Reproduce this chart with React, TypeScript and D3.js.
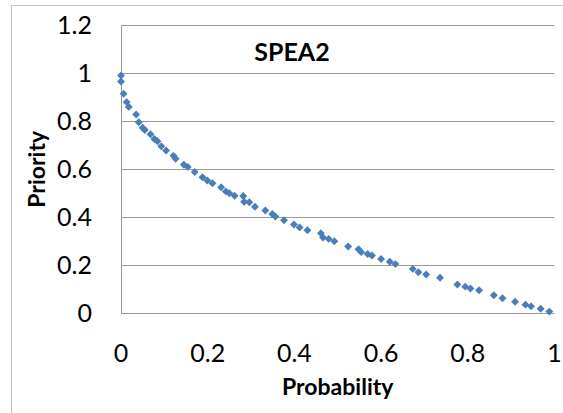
import * as d3 from "d3";

// values
const probability = [
  0, 0, 0.006, 0.013, 0.018, 0.035, 0.041, 0.05, 0.055, 0.068, 0.077, 0.084, 0.093, 0.104, 0.121, 0.126,
  0.145, 0.154, 0.17, 0.188, 0.199, 0.211, 0.231, 0.242, 0.25, 0.262, 0.282, 0.284, 0.296, 0.309, 0.333, 0.349,
  0.356, 0.376, 0.399, 0.412, 0.43, 0.461, 0.466, 0.479, 0.492, 0.524, 0.548, 0.554, 0.569, 0.579, 0.6, 0.62,
  0.633, 0.673, 0.686, 0.704, 0.736, 0.776, 0.794, 0.806, 0.826, 0.86, 0.88, 0.909, 0.933, 0.946, 0.968, 0.988,
];
const priority = [
  0.991, 0.966, 0.915, 0.88, 0.86, 0.828, 0.796, 0.773, 0.764, 0.746, 0.726, 0.717, 0.696, 0.678, 0.656, 0.644,
  0.619, 0.61, 0.589, 0.567, 0.553, 0.542, 0.525, 0.508, 0.5, 0.49, 0.489, 0.465, 0.463, 0.444, 0.428, 0.414,
  0.403, 0.388, 0.37, 0.358, 0.346, 0.334, 0.316, 0.31, 0.3, 0.278, 0.267, 0.255, 0.247, 0.241, 0.226, 0.215,
  0.205, 0.185, 0.171, 0.162, 0.148, 0.12, 0.111, 0.103, 0.096, 0.075, 0.063, 0.048, 0.036, 0.029, 0.019, 0.007,
];
const xTicks = [0, 0.2, 0.4, 0.6, 0.8, 1];
const yTicks = [0, 0.2, 0.4, 0.6, 0.8, 1, 1.2];

const title = "SPEA2";
const xTitle = "Probability";
const yTitle = "Priority";

const W = 563;
const H = 413;
const font = "Lato, 'Open Sans', sans-serif";

export default function App() {
  const x = d3.scaleLinear().domain([0, 1]).range([121, 554.5]);
  const y = d3.scaleLinear().domain([0, 1.2]).range([313.3, 25.3]);
  const [x0, x1] = x.range();
  const [y0, y1] = y.range();
  const marker = d3.symbol(d3.symbolDiamond2, 40)() as string;
  const fmt = (v: number) => String(+v.toFixed(1));

  return (
    <svg
      width={W}
      height={H}
      style={{ position: "absolute", left: 0, top: 0, background: "#fff" }}
      fontFamily={font}
    >
      {/* chart area border */}
      <rect x={11.5} y={5.5} width={W} height={H} fill="none" stroke="#c4c4c4" />

      {/* gridlines */}
      {yTicks.map(t => (
        <line key={t} x1={x0} x2={x1} y1={Math.round(y(t)) + 0.5} y2={Math.round(y(t)) + 0.5} stroke="#9a9a9a" />
      ))}
      <line x1={x0 + 0.5} x2={x0 + 0.5} y1={y1} y2={y0} stroke="#9a9a9a" />

      {/* y tick labels */}
      {yTicks.map(t => (
        <text key={t} x={92} y={y(t)} dy="0.35em" textAnchor="end" fontSize={25} fill="#000">
          {fmt(t)}
        </text>
      ))}
      {/* x tick labels */}
      {xTicks.map(t => (
        <text key={t} x={x(t)} y={362} textAnchor="middle" fontSize={25} fill="#000">
          {fmt(t)}
        </text>
      ))}

      {/* points */}
      {probability.map((p, i) => (
        <path key={i} d={marker} transform={`translate(${x(p)},${y(priority[i])})`} fill="#4a7ebb" />
      ))}

      <text x={292} y={61} textAnchor="middle" fontSize={25} fontWeight="bold">
        {title}
      </text>
      <text x={(x0 + x1) / 2} y={395} textAnchor="middle" fontSize={23} fontWeight="bold">
        {xTitle}
      </text>
      <text
        transform={`translate(45,${(y0 + y1) / 2}) rotate(-90)`}
        textAnchor="middle"
        fontSize={23}
        fontWeight="bold"
      >
        {yTitle}
      </text>
    </svg>
  );
}
